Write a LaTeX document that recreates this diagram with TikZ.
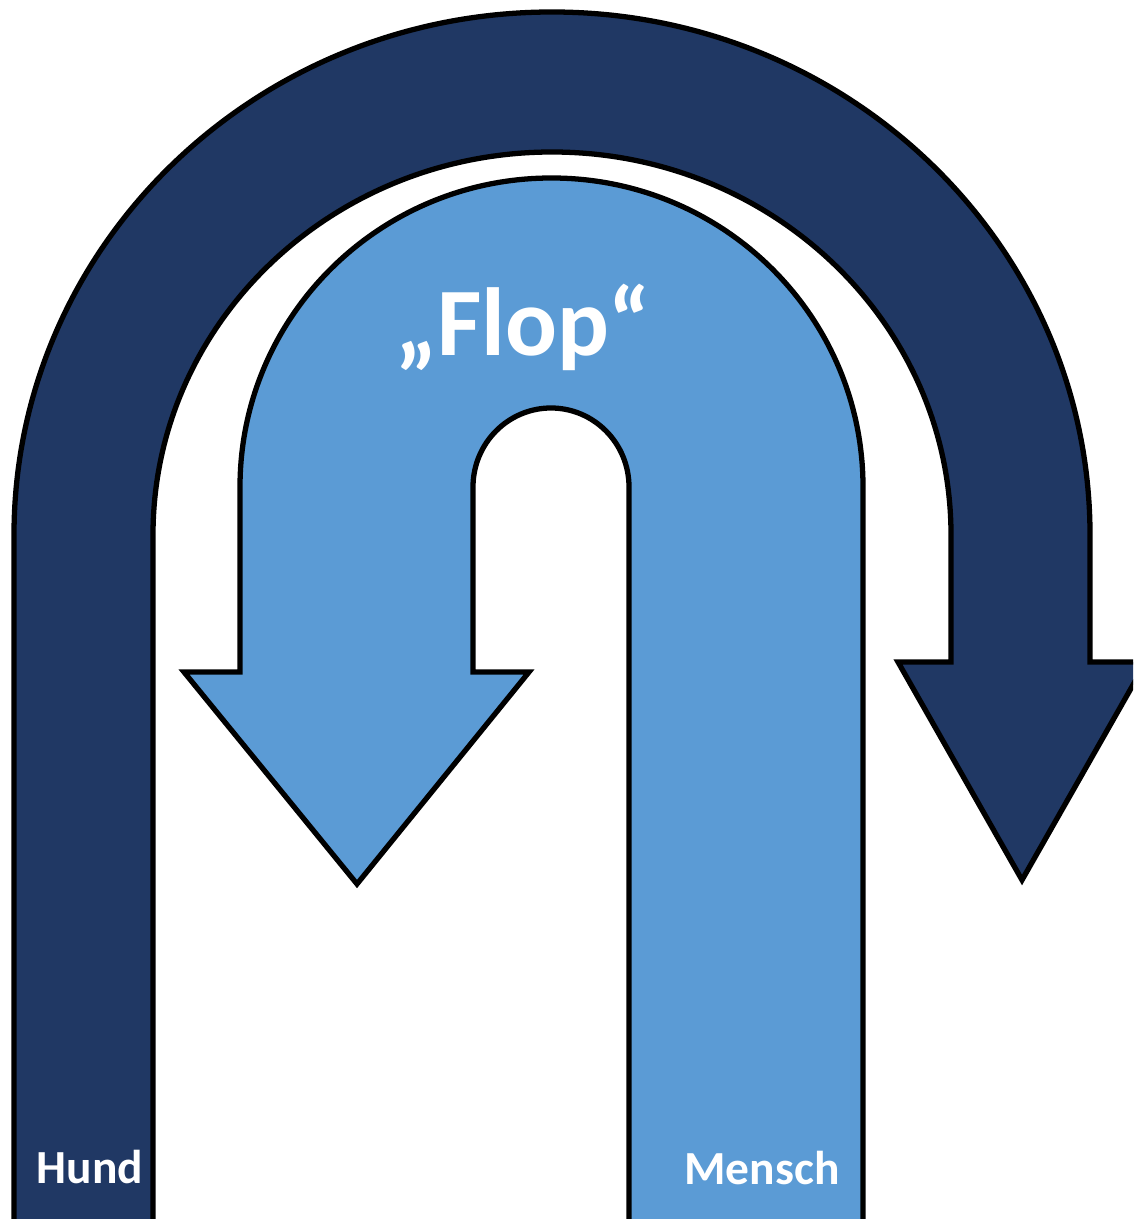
\documentclass[tikz,border=0pt]{standalone}
\usepackage{fontspec}
\setmainfont{Carlito}
\definecolor{hundblue}{RGB}{32,56,100}
\definecolor{menschblue}{RGB}{91,155,213}
\begin{document}
\begin{tikzpicture}[x=0.01cm, y=-0.01cm,
  uturn/.style={draw=black, line width=1.5pt, line join=miter},
  lbl/.style={text=white, font=\bfseries, anchor=base, inner sep=0pt}]
\useasboundingbox (0,0) rectangle (1133,1219);
\clip (0,0) rectangle (1133,1219);
% outer arrow (Hund): up the left leg, over the top, head on the right
\draw[uturn, fill=hundblue] (14,1240) -- (14,535)
  arc[start angle=180, end angle=360, x radius=538, y radius=523]
  -- (1090,662) -- (1146,662) -- (1022,880) -- (898,662) -- (951,662) -- (951,535)
  arc[start angle=0, end angle=-180, x radius=399, y radius=383]
  -- (153,1240) -- cycle;
% inner arrow (Mensch): up the right leg, over the top, head on the left
\draw[uturn, fill=menschblue] (863,1240) -- (863,487)
  arc[start angle=0, end angle=-180, x radius=311.5, y radius=309]
  -- (240,672) -- (184,672) -- (357,884) -- (529,672) -- (473,672) -- (473,487)
  arc[start angle=180, end angle=360, x radius=78, y radius=79]
  -- (629,1240) -- cycle;
\node[lbl, font=\fontsize{27.5}{32}\selectfont\bfseries] (flop) at (523,356) {„Flop“};
\node[lbl, font=\fontsize{13.5}{16}\selectfont\bfseries] (hund) at (90,1183) {Hund};
\node[lbl, font=\fontsize{13.5}{16}\selectfont\bfseries] (mensch) at (762,1184) {Mensch};
\end{tikzpicture}
\end{document}
